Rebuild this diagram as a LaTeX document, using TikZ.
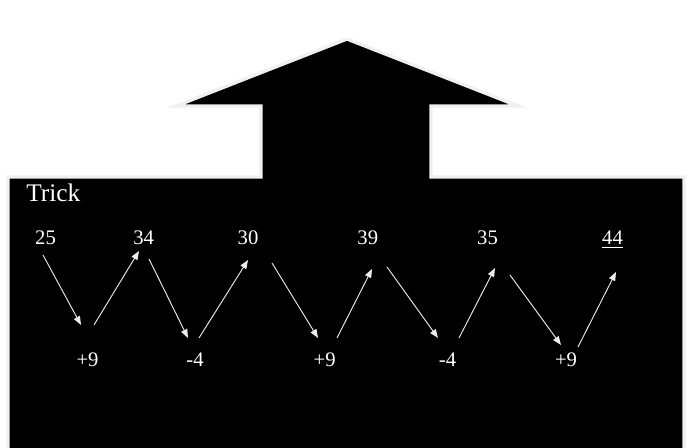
\documentclass[tikz,border=0pt]{standalone}
\usepackage{fontspec}
\setmainfont{Liberation Serif}
\usetikzlibrary{arrows.meta}

\begin{document}
\begin{tikzpicture}[x=0.75pt, y=-0.75pt,
    nombre/.style={white, font=\fontsize{15.5}{18}\selectfont, anchor=base},
    fleche/.style={white!85!gray, line width=0.7pt, -{Triangle[length=6.5pt, width=5pt]}}]
    \useasboundingbox (0,0) rectangle (687,448);

    % Forme noire : fleche vers le haut + corps
    \filldraw[fill=black, draw=gray!12, line width=2.5pt]
        (8,177) -- (261,177) -- (261,106) -- (176,106) -- (347,39) -- (518,106)
        -- (431,106) -- (431,177) -- (684,177) -- (684,452) -- (8,452) -- cycle;

    % Titre
    \node[white, inner sep=0pt, font=\fontsize{19}{22}\selectfont, anchor=base west] (titre) at (26,201.7) {Trick};

    % Suite de nombres
    \node[nombre] (n1) at (45.5,245) {25};
    \node[nombre] (n2) at (143.7,245) {34};
    \node[nombre] (n3) at (248,245) {30};
    \node[nombre] (n4) at (367.8,245) {39};
    \node[nombre] (n5) at (487.5,245) {35};
    \node[nombre] (n6) at (612.5,245) {\underline{44}};

    % Operations
    \node[nombre] (o1) at (87.5,366.5) {+9};
    \node[nombre] (o2) at (195,366.5) {-4};
    \node[nombre] (o3) at (324.7,366.5) {+9};
    \node[nombre] (o4) at (447.5,366.5) {-4};
    \node[nombre] (o5) at (566,366.5) {+9};

    % Extremites des fleches
    \coordinate (d1) at (43,255);  \coordinate (f1) at (81,325);
    \coordinate (d2) at (94,325);  \coordinate (f2) at (139,251);
    \coordinate (d3) at (149,259); \coordinate (f3) at (188,338);
    \coordinate (d4) at (199,338); \coordinate (f4) at (248,260);
    \coordinate (d5) at (272,263); \coordinate (f5) at (318,338);
    \coordinate (d6) at (337,338); \coordinate (f6) at (372,269);
    \coordinate (d7) at (387,267); \coordinate (f7) at (438,338);
    \coordinate (d8) at (459,338); \coordinate (f8) at (495,268);
    \coordinate (d9) at (510,275); \coordinate (f9) at (561,345);
    \coordinate (d10) at (578,347); \coordinate (f10) at (616,272);

    % Fleches en zigzag
    \foreach \i in {1,...,10}
        \draw[fleche] (d\i) -- (f\i);
\end{tikzpicture}
\end{document}
